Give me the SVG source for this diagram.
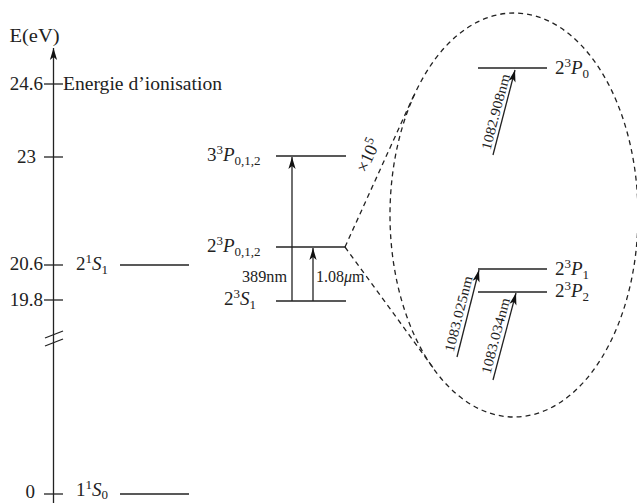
<svg xmlns="http://www.w3.org/2000/svg" width="637" height="503" viewBox="0 0 637 503">
<defs>
<style>
svg text, svg tspan{font-family:"Liberation Serif",serif}
.t{font-size:19px;fill:#222}
.m{font-size:16px;fill:#222}
.r{font-size:14px;fill:#222}
.sup{font-size:13px}
.sub{font-size:13px}
.it{font-style:italic}
.ln{stroke:#222;stroke-width:1.3;fill:none}
.dash{stroke:#222;stroke-width:1.3;fill:none;stroke-dasharray:5 4}
</style>
<marker id="ah" markerWidth="14" markerHeight="10" viewBox="-12 -5 14 10" refX="0" refY="0" orient="auto" markerUnits="userSpaceOnUse">
<path d="M0,0 L-12,-3.6 L-9,0 L-12,3.6 Z" fill="#111"/>
</marker>
</defs>
<rect width="637" height="503" fill="#fff"/>

<g id="axis">
<line class="ln" x1="53.5" y1="503" x2="53.5" y2="48" marker-end="url(#ah)"/>
<text class="t" x="9.5" y="42" textLength="50" lengthAdjust="spacingAndGlyphs">E(eV)</text>
<line class="ln" x1="45" y1="338" x2="63" y2="331"/>
<line class="ln" x1="45" y1="346" x2="63" y2="339"/>
</g>

<g id="tick-24-6">
<line class="ln" x1="44" y1="84" x2="63" y2="84"/>
<text class="t" x="43" y="90" text-anchor="end">24.6</text>
<text class="t" x="63" y="90" textLength="159" lengthAdjust="spacingAndGlyphs">Energie d’ionisation</text>
</g>
<g id="tick-23">
<line class="ln" x1="44" y1="157" x2="63" y2="157"/>
<text class="t" x="36" y="163" text-anchor="end">23</text>
</g>
<g id="tick-20-6">
<line class="ln" x1="44" y1="265" x2="63" y2="265"/>
<text class="t" x="43" y="270" text-anchor="end">20.6</text>
</g>
<g id="tick-19-8">
<line class="ln" x1="44" y1="300" x2="63" y2="300"/>
<text class="t" x="43" y="306" text-anchor="end">19.8</text>
</g>
<g id="tick-0">
<line class="ln" x1="44" y1="494" x2="63" y2="494"/>
<text class="t" x="35" y="498" text-anchor="end">0</text>
</g>

<g id="level-21S1">
<line class="ln" x1="120" y1="265" x2="189" y2="265"/>
<text class="t" x="76" y="270">2<tspan class="sup" dy="-7">1</tspan><tspan class="it" dy="7">S</tspan><tspan class="sub" dy="4">1</tspan></text>
</g>
<g id="level-11S0">
<line class="ln" x1="120" y1="494" x2="189" y2="494"/>
<text class="t" x="76" y="496">1<tspan class="sup" dy="-7">1</tspan><tspan class="it" dy="7">S</tspan><tspan class="sub" dy="3">0</tspan></text>
</g>

<g id="level-33P">
<line class="ln" x1="276" y1="156" x2="346" y2="156"/>
<text class="t" x="207" y="161">3<tspan class="sup" dy="-7">3</tspan><tspan class="it" dy="7">P</tspan><tspan class="sub" dy="4">0,1,2</tspan></text>
</g>
<g id="level-23P">
<line class="ln" x1="276" y1="247" x2="346" y2="247"/>
<text class="t" x="207" y="252">2<tspan class="sup" dy="-7">3</tspan><tspan class="it" dy="7">P</tspan><tspan class="sub" dy="4">0,1,2</tspan></text>
</g>
<g id="level-23S1">
<line class="ln" x1="276" y1="301" x2="346" y2="301"/>
<text class="t" x="224" y="305">2<tspan class="sup" dy="-7">3</tspan><tspan class="it" dy="7">S</tspan><tspan class="sub" dy="4">1</tspan></text>
</g>

<g id="level-23P0">
<line class="ln" x1="478" y1="68" x2="547" y2="68"/>
<text class="t" x="555" y="74">2<tspan class="sup" dy="-7">3</tspan><tspan class="it" dy="7">P</tspan><tspan class="sub" dy="4">0</tspan></text>
</g>
<g id="level-23P1">
<line class="ln" x1="478" y1="269" x2="547" y2="269"/>
<text class="t" x="555" y="275">2<tspan class="sup" dy="-7">3</tspan><tspan class="it" dy="7">P</tspan><tspan class="sub" dy="4">1</tspan></text>
</g>
<g id="level-23P2">
<line class="ln" x1="478" y1="292" x2="547" y2="292"/>
<text class="t" x="555" y="297">2<tspan class="sup" dy="-7">3</tspan><tspan class="it" dy="7">P</tspan><tspan class="sub" dy="4">2</tspan></text>
</g>

<g id="zoom-ellipse">
<ellipse class="dash" cx="514" cy="215" rx="124" ry="202"/>
</g>

<g id="connectors">
<line class="ln" x1="292" y1="301" x2="292" y2="157" marker-end="url(#ah)"/>
<text class="m" x="242" y="282" textLength="45" lengthAdjust="spacingAndGlyphs">389nm</text>
<line class="ln" x1="313" y1="301" x2="313" y2="248" marker-end="url(#ah)"/>
<text class="m" x="316" y="282">1.08<tspan class="it">μ</tspan>m</text>

<line class="dash" x1="345" y1="247" x2="414" y2="95"/>
<line class="dash" x1="345" y1="247" x2="434" y2="369"/>
<text class="m" transform="translate(369,156) rotate(-65.6)" text-anchor="middle" dy="5" style="font-size:18px">×10<tspan class="sup" dy="-7">5</tspan></text>

<line class="ln" x1="493" y1="155" x2="515" y2="70" marker-end="url(#ah)"/>
<text class="r" transform="translate(504,114) rotate(-75.2)" x="0" y="-4" text-anchor="middle" textLength="78" lengthAdjust="spacingAndGlyphs">1082.908nm</text>
<line class="ln" x1="457" y1="357" x2="479" y2="270" marker-end="url(#ah)"/>
<text class="r" transform="translate(467,316) rotate(-75.9)" x="0" y="-4" text-anchor="middle" textLength="78" lengthAdjust="spacingAndGlyphs">1083.025nm</text>
<line class="ln" x1="493" y1="380" x2="516" y2="293" marker-end="url(#ah)"/>
<text class="r" transform="translate(504,338) rotate(-75.2)" x="0" y="-4" text-anchor="middle" textLength="78" lengthAdjust="spacingAndGlyphs">1083.034nm</text>
</g>
</svg>
